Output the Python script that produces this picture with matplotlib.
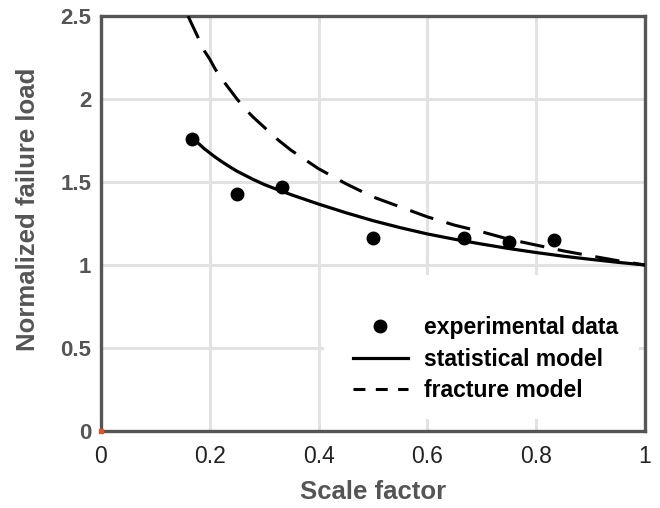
import numpy as np
import matplotlib
matplotlib.use("Agg")
import matplotlib.pyplot as plt
from matplotlib.lines import Line2D
from matplotlib.patches import Rectangle

# experimental points
exp_x = [0.167, 0.25, 0.333, 0.5, 0.667, 0.75, 0.833]
exp_y = [1.76, 1.43, 1.47, 1.16, 1.16, 1.14, 1.15]

# statistical model
stat_x = [0.17, 0.18, 0.19, 0.2, 0.21, 0.22, 0.235, 0.25, 0.265, 0.28, 0.3,
          0.325, 0.35, 0.375, 0.4, 0.45, 0.5, 0.55, 0.6, 0.65, 0.7, 0.75,
          0.8, 0.85, 0.9, 0.95, 1.0]
stat_y = [1.76, 1.73, 1.70, 1.675, 1.65, 1.627, 1.595, 1.565, 1.54, 1.515, 1.485,
          1.453, 1.423, 1.395, 1.367, 1.315, 1.267, 1.225, 1.187, 1.155, 1.126,
          1.099, 1.075, 1.053, 1.034, 1.016, 1.0]

# fracture model
frac_x = [0.16, 0.17, 0.18, 0.19, 0.2, 0.21, 0.22, 0.235, 0.25, 0.265, 0.28,
          0.3, 0.325, 0.35, 0.375, 0.4, 0.45, 0.5, 0.55, 0.6, 0.65, 0.7,
          0.75, 0.8, 0.85, 0.9, 0.95, 1.0]
frac_y = [2.5, 2.43, 2.36, 2.29, 2.24, 2.18, 2.13, 2.065, 2.0, 1.94, 1.89,
          1.83, 1.755, 1.69, 1.635, 1.58, 1.49, 1.41, 1.35, 1.29, 1.24, 1.2,
          1.155, 1.12, 1.085, 1.055, 1.026, 1.0]

x_ticks = [0, 0.2, 0.4, 0.6, 0.8, 1]
x_ticklabels = ["0", "0.2", "0.4", "0.6", "0.8", "1"]
y_ticks = [0, 0.5, 1, 1.5, 2, 2.5]
y_ticklabels = ["0", "0.5", "1", "1.5", "2", "2.5"]

plt.rcParams["font.family"] = ["Liberation Sans", "DejaVu Sans"]

fig = plt.figure(figsize=(6.6, 5.08), dpi=100)
ax = fig.add_axes([0.153, 0.1516, 0.824, 0.817])

ax.grid(True, color="#e2e2e2", lw=2.2)
ax.set_axisbelow(True)

# white area behind the legend (hides the grid there)
ax.add_patch(Rectangle((0.41, 0.07), 0.58, 0.87, facecolor="white",
                       edgecolor="none", zorder=1))

ax.plot(exp_x, exp_y, "o", color="black", ms=9, ls="none", zorder=4)
ax.plot(stat_x, stat_y, "-", color="black", lw=2.3, zorder=3)
ax.plot(frac_x, frac_y, color="black", lw=2.2, ls=(0, (8, 4.5)), zorder=3)
ax.plot([0], [0], "s", color="#e0522a", ms=2.5, clip_on=False, zorder=5)

ax.set_xlim(0, 1)
ax.set_ylim(0, 2.5)
ax.set_xticks(x_ticks)
ax.set_xticklabels(x_ticklabels, fontsize=16.5, color="#222222")
ax.set_yticks(y_ticks)
ax.set_yticklabels(y_ticklabels, fontsize=16, color="#555555",
                   fontweight="bold")
ax.tick_params(axis="x", length=0, pad=10)
ax.tick_params(axis="y", length=0, pad=7)

for side in ["bottom", "left", "top", "right"]:
    ax.spines[side].set_linewidth(2.4)
    ax.spines[side].set_color("#555555")

ax.set_xlabel("Scale factor", fontsize=18.5, fontweight="bold",
              color="#555555", labelpad=9)
ax.set_ylabel("Normalized failure load", fontsize=18.5, fontweight="bold",
              color="#555555")
ax.yaxis.set_label_coords(-0.113, 0.535)

handles = [
    Line2D([], [], marker="o", color="black", ms=9, ls="none"),
    Line2D([], [], color="black", lw=2.3),
    Line2D([], [], color="black", lw=2.2, ls=(0, (3.9, 3.4))),
]
labels = ["experimental data", "statistical model", "fracture model"]
ax.legend(handles, labels, loc="center left", bbox_to_anchor=(0.463, 0.173),
          prop={"size": 16.5, "weight": "bold"}, frameon=False,
          handlelength=2.4, handletextpad=0.7, borderpad=0,
          borderaxespad=0, labelspacing=0.38)

fig.savefig("out.png", dpi=100)
